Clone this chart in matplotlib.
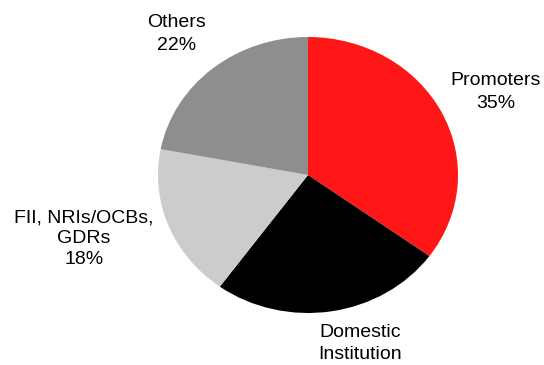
import matplotlib
matplotlib.use('Agg')
import matplotlib.pyplot as plt

# Shareholding pattern
labels = ['Promoters\n35%', 'Domestic\nInstitution', 'FII, NRIs/OCBs,\nGDRs\n18%', 'Others\n22%']
shares = [35, 25, 18, 22]
colors = ['#ff1616', '#000000', '#cccccc', '#8e8e8e']

plt.rcParams['font.family'] = ['Liberation Sans', 'DejaVu Sans']

fig = plt.figure(figsize=(5.44, 3.65), dpi=100)
ax = fig.add_axes([158 / 544, 52 / 365, 300 / 544, 276 / 365])
wedges, _ = ax.pie(shares, colors=colors, startangle=90, counterclock=False,
                   radius=1, wedgeprops=dict(linewidth=0))
ax.set_xlim(-1, 1)
ax.set_ylim(-1, 1)
ax.set_aspect('auto')
ax.set_axis_off()

# label positions in axes coordinates
label_pos = [(1.253, 0.60), (0.347, -1.22), (-1.493, -0.46), (-0.877, 1.02)]
spacing = [1.47, 1.35, 1.3, 1.47]
for lab, (x, y), ls in zip(labels, label_pos, spacing):
    ax.text(x, y, lab, ha='center', va='center', fontsize=14, linespacing=ls)

fig.savefig('out.png', dpi=100)
